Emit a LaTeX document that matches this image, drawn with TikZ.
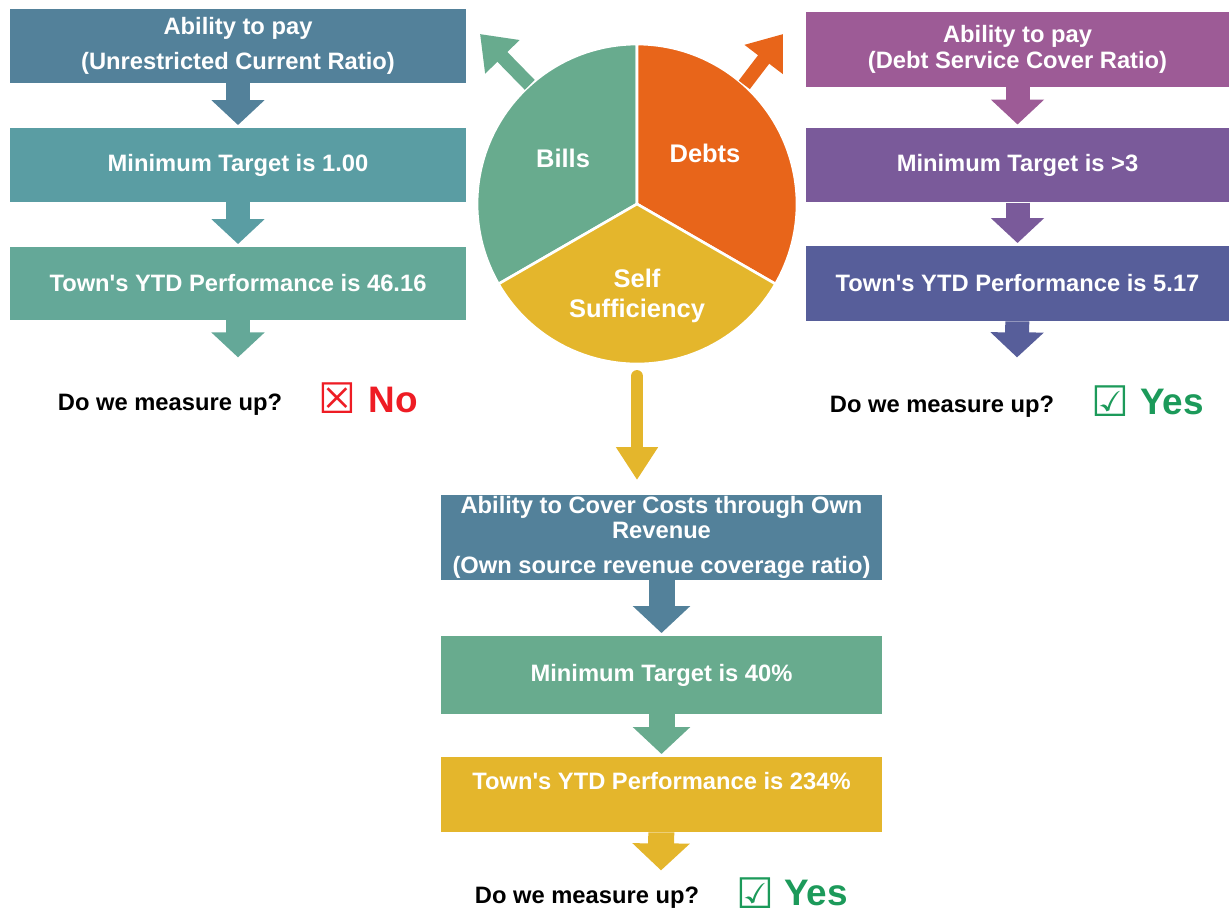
\documentclass[tikz,border=0pt]{standalone}
\usepackage{fontspec}
\setmainfont{Liberation Sans}
\newfontfamily\symfont{DejaVu Sans}
\usetikzlibrary{arrows.meta}

\definecolor{slate}{HTML}{53819A}
\definecolor{lagoon}{HTML}{5A9DA3}
\definecolor{sea}{HTML}{64A898}
\definecolor{plum}{HTML}{9D5B96}
\definecolor{grape}{HTML}{7A5A9A}
\definecolor{dusk}{HTML}{575E9A}
\definecolor{mint}{HTML}{68AB8E}
\definecolor{mustard}{HTML}{E4B62C}
\definecolor{tangerine}{HTML}{E8651A}
\definecolor{nored}{HTML}{EE1C24}
\definecolor{yesgreen}{HTML}{1C9A5A}

\begin{document}
\begin{tikzpicture}[x=0.02cm, y=-0.02cm,
  font=\fontsize{13.5}{16}\selectfont\bfseries,
  box/.style={fill=#1, text=white, align=center, inner sep=0pt},
  lbox/.style={box=#1, minimum width=9.12cm, minimum height=1.48cm},
  rbox/.style={box=#1, minimum width=8.46cm, minimum height=1.5cm},
  bbox/.style={box=#1, minimum width=8.82cm},
  flow/.style={draw=#1, line width=0.48cm, -{Triangle[width=1.04cm, length=0.5cm]}, shorten >=1.5pt},
  bflow/.style={draw=#1, line width=0.52cm, -{Triangle[width=1.12cm, length=0.54cm]}, shorten >=1.5pt},
  piearrow/.style={draw=#1, line width=0.28cm, -{Triangle[width=0.92cm, length=0.64cm]}},
  sector/.style={fill=#1, draw=white, line width=1.5pt},
  pielabel/.style={text=white, align=center, font=\fontsize{14.5}{16}\selectfont\bfseries},
  verdict/.style={font=\fontsize{21}{24}\selectfont\bfseries},
  ballot/.style={font=\symfont\bfseries\fontsize{24}{26}\selectfont}
]
\useasboundingbox (0,0) rectangle (1229,916);

% left column: bills
\node[lbox=slate] (l1) at (238,46) {Ability to pay\\[4pt](Unrestricted Current Ratio)};
\node[lbox=lagoon] (l2) at (238,165) {Minimum Target is 1.00};
\node[lbox=sea, minimum height=1.46cm] (l3) at (238,283.5) {Town\textquotesingle s YTD Performance is 46.16};
\coordinate (l4) at (238,360);
\draw[flow=slate] (l1) -- (l2);
\draw[flow=lagoon] (l2) -- (l3);
\draw[flow=sea] (l3) -- (l4);

\node (lask) at (170,405) {Do we measure up?};
\node[ballot, text=nored] (lmark) at (337,398) {☒};
\node[verdict, text=nored] (lno) at (393,400) {No};

% right column: debts
\node[rbox=plum] (r1) at (1017.5,49.5) {Ability to pay\\[-1pt](Debt Service Cover Ratio)};
\node[rbox=grape] (r2) at (1017.5,165) {Minimum Target is >3};
\node[rbox=dusk] (r3) at (1017.5,283.5) {Town\textquotesingle s YTD Performance is 5.17};
\coordinate (r4) at (1017,360);
\draw[flow=plum] (r1) -- (r2);
\draw[flow=grape] (r2) -- (r3);
\draw[flow=dusk] (r3) -- (r4);

\node (rask) at (942,407) {Do we measure up?};
\node[ballot, text=yesgreen] (rmark) at (1110,401) {☑};
\node[verdict, text=yesgreen] (ryes) at (1172,402) {Yes};

% the pie
\node[circle, minimum size=6.4cm, inner sep=0pt] (pie) at (637,204) {};
\begin{scope}[shift={(pie.center)}, x=1cm, y=1cm]
  \filldraw[sector=mint] (0,0) -- (90:3.2) arc[start angle=90, end angle=210, radius=3.2] -- cycle;
  \filldraw[sector=tangerine] (0,0) -- (-30:3.2) arc[start angle=-30, end angle=90, radius=3.2] -- cycle;
  \filldraw[sector=mustard] (0,0) -- (210:3.2) arc[start angle=210, end angle=330, radius=3.2] -- cycle;
\end{scope}
\node[pielabel] (bills) at (563,158) {Bills};
\node[pielabel] (debts) at (705,153) {Debts};
\node[pielabel] (self) at (637,296) {Self\\[1pt]Sufficiency};

\coordinate (billsto) at (480,34);
\coordinate (debtsto) at (783,34);
\coordinate (selfto) at (637,480);
\draw[piearrow=mint] (pie.132) -- (billsto);
\draw[piearrow=tangerine] (pie.48) -- (debtsto);
\draw[draw=mustard, line width=0.25cm, line cap=round, shorten <=0.24cm,
  -{Triangle[width=0.8cm, length=0.66cm]}] (pie.south) -- (selfto);

% bottom column: self sufficiency
\node[bbox=slate, minimum height=1.7cm] (b1) at (661.5,537.5) {Ability to Cover Costs through Own\\[-2pt]Revenue\\[4pt](Own source revenue coverage ratio)};
\node[bbox=mint, minimum height=1.56cm] (b2) at (661.5,675) {Minimum Target is 40\%};
\node[bbox=mustard, minimum height=1.5cm, text height=10pt, text depth=16pt] (b3) at (661.5,794.5) {Town\textquotesingle s YTD Performance is 234\%};
\coordinate (b4) at (661,873);
\draw[bflow=slate] (b1) -- (b2);
\draw[bflow=mint] (b2) -- (b3);
\draw[bflow=mustard] (b3) -- (b4);

\node (bask) at (587,898) {Do we measure up?};
\node[ballot, text=yesgreen] (bmark) at (755,893) {☑};
\node[verdict, text=yesgreen] (byes) at (816,893) {Yes};

\end{tikzpicture}
\end{document}
